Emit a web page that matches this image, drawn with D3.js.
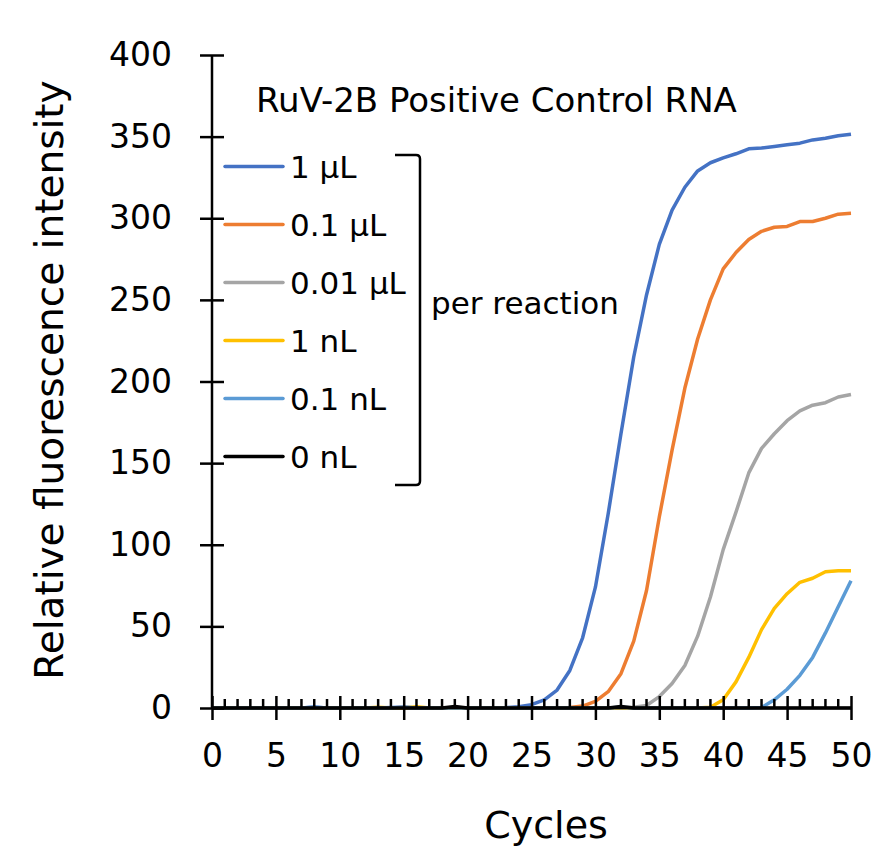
<!DOCTYPE html>
<html>
<head>
<meta charset="utf-8">
<script src="https://cdn.jsdelivr.net/npm/d3@7"></script>
<style>
  body { margin: 0; background: #fff; }
  svg text { font-family: "DejaVu Sans", Verdana, sans-serif; fill: #000; }
</style>
</head>
<body>
<svg id="chart" width="894" height="862"></svg>
<script>
// cycles 0..50
const cycles = d3.range(0, 51);

const seriesNames = ["1 μL", "0.1 μL", "0.01 μL", "1 nL", "0.1 nL", "0 nL"];
const seriesColors = ["#4472C4", "#ED7D31", "#A5A5A5", "#FFC000", "#5B9BD5", "#000000"];

const vol1uL = [0, 0, 0, 0, 0, 0, 0, 0, 0.6, 0, 0, 0, 0, 0, 0.3, 0.4, 0, 0, 0, 0, 0, 0, 0, 0.2, 0.8,
  2, 5, 11, 23, 43, 74, 119, 168, 215, 253, 284, 305, 319, 329, 334, 337, 339.5, 342.5, 343, 344, 345, 346, 348, 349, 350.5, 351.5];
const vol01uL = [0, 0, 0, 0, 0, 0, 0, 0, 0, 0, 0, 0, 0, 0, 0, 0.5, 0, 0, 0, 0, 0, 0, 0, 0, 0,
  0, 0, 0, 0.3, 1.2, 4, 10, 21, 41, 72, 117, 158, 196, 226, 250, 269, 279, 287, 292, 294.5, 295, 298, 298, 300, 302.5, 303];
const vol001uL = [0, 0, 0, 0, 0, 0, 0, 0, 0, 0, 0, 0, 0, 0, 0, 0, 0, 0, 0, 0, 0, 0, 0, 0, 0,
  0, 0, 0, 0, 0, 0, 0, 0, 0.4, 1.5, 7, 15, 26, 44, 68, 97, 120, 144, 159, 168, 176, 182, 185.5, 187, 190.5, 192];
const vol1nL = [0, 0, 0, 0, 0, 0, 0, 0, 0, 0, 0, 0, 0, 0.4, 0, 0, 0.8, 0, 0, 0, 0, 0, 0, 0, 0,
  0, 0, 0, 0, 0, 0, 0, 0, 0, 0, 0, 0, 0, 0, 0.5, 5, 16, 31, 48, 61, 70, 77, 79.5, 83.5, 84, 84];
const vol01nL = [0, 0, 0, 0, 0, 0, 0, 0, 0.5, 0, 0, 0, 0, 0, 0, 0.6, 0, 0, 0, 0, 0, 0, 0, 0, 0,
  0, 0, 0, 0, 0, 0, 0, 0.4, 0, 0, 0, 0, 0, 0, 0, 0, 0, 0, 0.3, 5, 11.5, 20, 31, 46, 62, 78];
const vol0nL = [0, 0, 0, 0, 0, 0, 0, 0, 0, 0, 0, 0, 0, 0, 0, 0, 0, 0, 0, 0.9, 0, 0, 0, 0, 0,
  0, 0, 0, 0, 0, 0, 0, 0.9, 0, 0, 0, 0, 0, 0, 0, 0, 0, 0, 0, 0, 0, 0, 0, 0, 0, 0];

const seriesValues = [vol1uL, vol01uL, vol001uL, vol1nL, vol01nL, vol0nL];

const xTicks = [0, 5, 10, 15, 20, 25, 30, 35, 40, 45, 50];
const yTicks = [0, 50, 100, 150, 200, 250, 300, 350, 400];

const svg = d3.select("#chart");

const x = d3.scaleLinear().domain([0, 50]).range([212, 851]);
const y = d3.scaleLinear().domain([0, 400]).range([708, 55]);

// lines (drawn under the axes so the axis line sits on top of the zero values)
const line = d3.line()
    .x((d, i) => x(cycles[i]))
    .y(d => y(d));

const linesG = svg.append("g");
seriesValues.forEach((vals, k) => {
    linesG.append("path")
        .datum(vals)
        .attr("fill", "none")
        .attr("stroke", seriesColors[k])
        .attr("stroke-width", 3.5)
        .attr("stroke-linejoin", "round")
        .attr("d", line);
});

// y axis, ticks cross the axis line
const yAxisG = svg.append("g").attr("transform", `translate(${x(0)},0)`);
yAxisG.call(d3.axisLeft(y).tickValues(yTicks).tickSize(12).tickPadding(28));
yAxisG.selectAll(".tick line").attr("x1", -12).attr("x2", 12);
yAxisG.select(".domain").attr("d", `M0,${y(400)}V${y(0)}`);
yAxisG.selectAll("line, path").attr("stroke", "#000").attr("stroke-width", 2.5);
yAxisG.selectAll("text").style("font-size", "33px");

// x axis: major ticks cross the axis, minor ticks above
const xAxisG = svg.append("g").attr("transform", `translate(0,${y(0)})`);
xAxisG.call(d3.axisBottom(x).tickValues(xTicks).tickSize(12).tickPadding(24));
xAxisG.selectAll(".tick line").attr("y1", -12).attr("y2", 12);
xAxisG.select(".domain").attr("d", `M${x(0)},0H${x(50)}`);
xAxisG.selectAll("text").style("font-size", "33px");
xAxisG.selectAll(".minor")
    .data(cycles.filter(c => c % 5 !== 0))
    .join("line")
    .attr("class", "minor")
    .attr("x1", d => x(d)).attr("x2", d => x(d))
    .attr("y1", 0).attr("y2", -9);
xAxisG.selectAll("line, path").attr("stroke", "#000").attr("stroke-width", 2.5);

// axis titles
svg.append("text")
    .attr("x", 546).attr("y", 838)
    .attr("text-anchor", "middle")
    .style("font-size", "38px")
    .text("Cycles");

svg.append("text")
    .attr("transform", "translate(63,380) rotate(-90)")
    .attr("text-anchor", "middle")
    .style("font-size", "39px")
    .text("Relative fluorescence intensity");

// title inside the plot
svg.append("text")
    .attr("x", 256).attr("y", 112)
    .style("font-size", "34px")
    .text("RuV-2B Positive Control RNA");

// legend
const legend = svg.append("g");
seriesNames.forEach((name, k) => {
    const ly = 166.5 + k * 58;
    legend.append("line")
        .attr("x1", 225).attr("x2", 283)
        .attr("y1", ly).attr("y2", ly)
        .attr("stroke", seriesColors[k])
        .attr("stroke-width", 3.5)
        .attr("stroke-linecap", "round");
    legend.append("text")
        .attr("x", 290).attr("y", ly)
        .attr("dy", "0.36em")
        .style("font-size", "31px")
        .text(name);
});

// bracket
svg.append("path")
    .attr("d", "M395,155H416Q420,155 420,159V481Q420,485 416,485H395")
    .attr("fill", "none")
    .attr("stroke", "#000")
    .attr("stroke-width", 2.5);

svg.append("text")
    .attr("x", 431).attr("y", 303)
    .attr("dy", "0.36em")
    .style("font-size", "31px")
    .text("per reaction");
</script>
</body>
</html>
